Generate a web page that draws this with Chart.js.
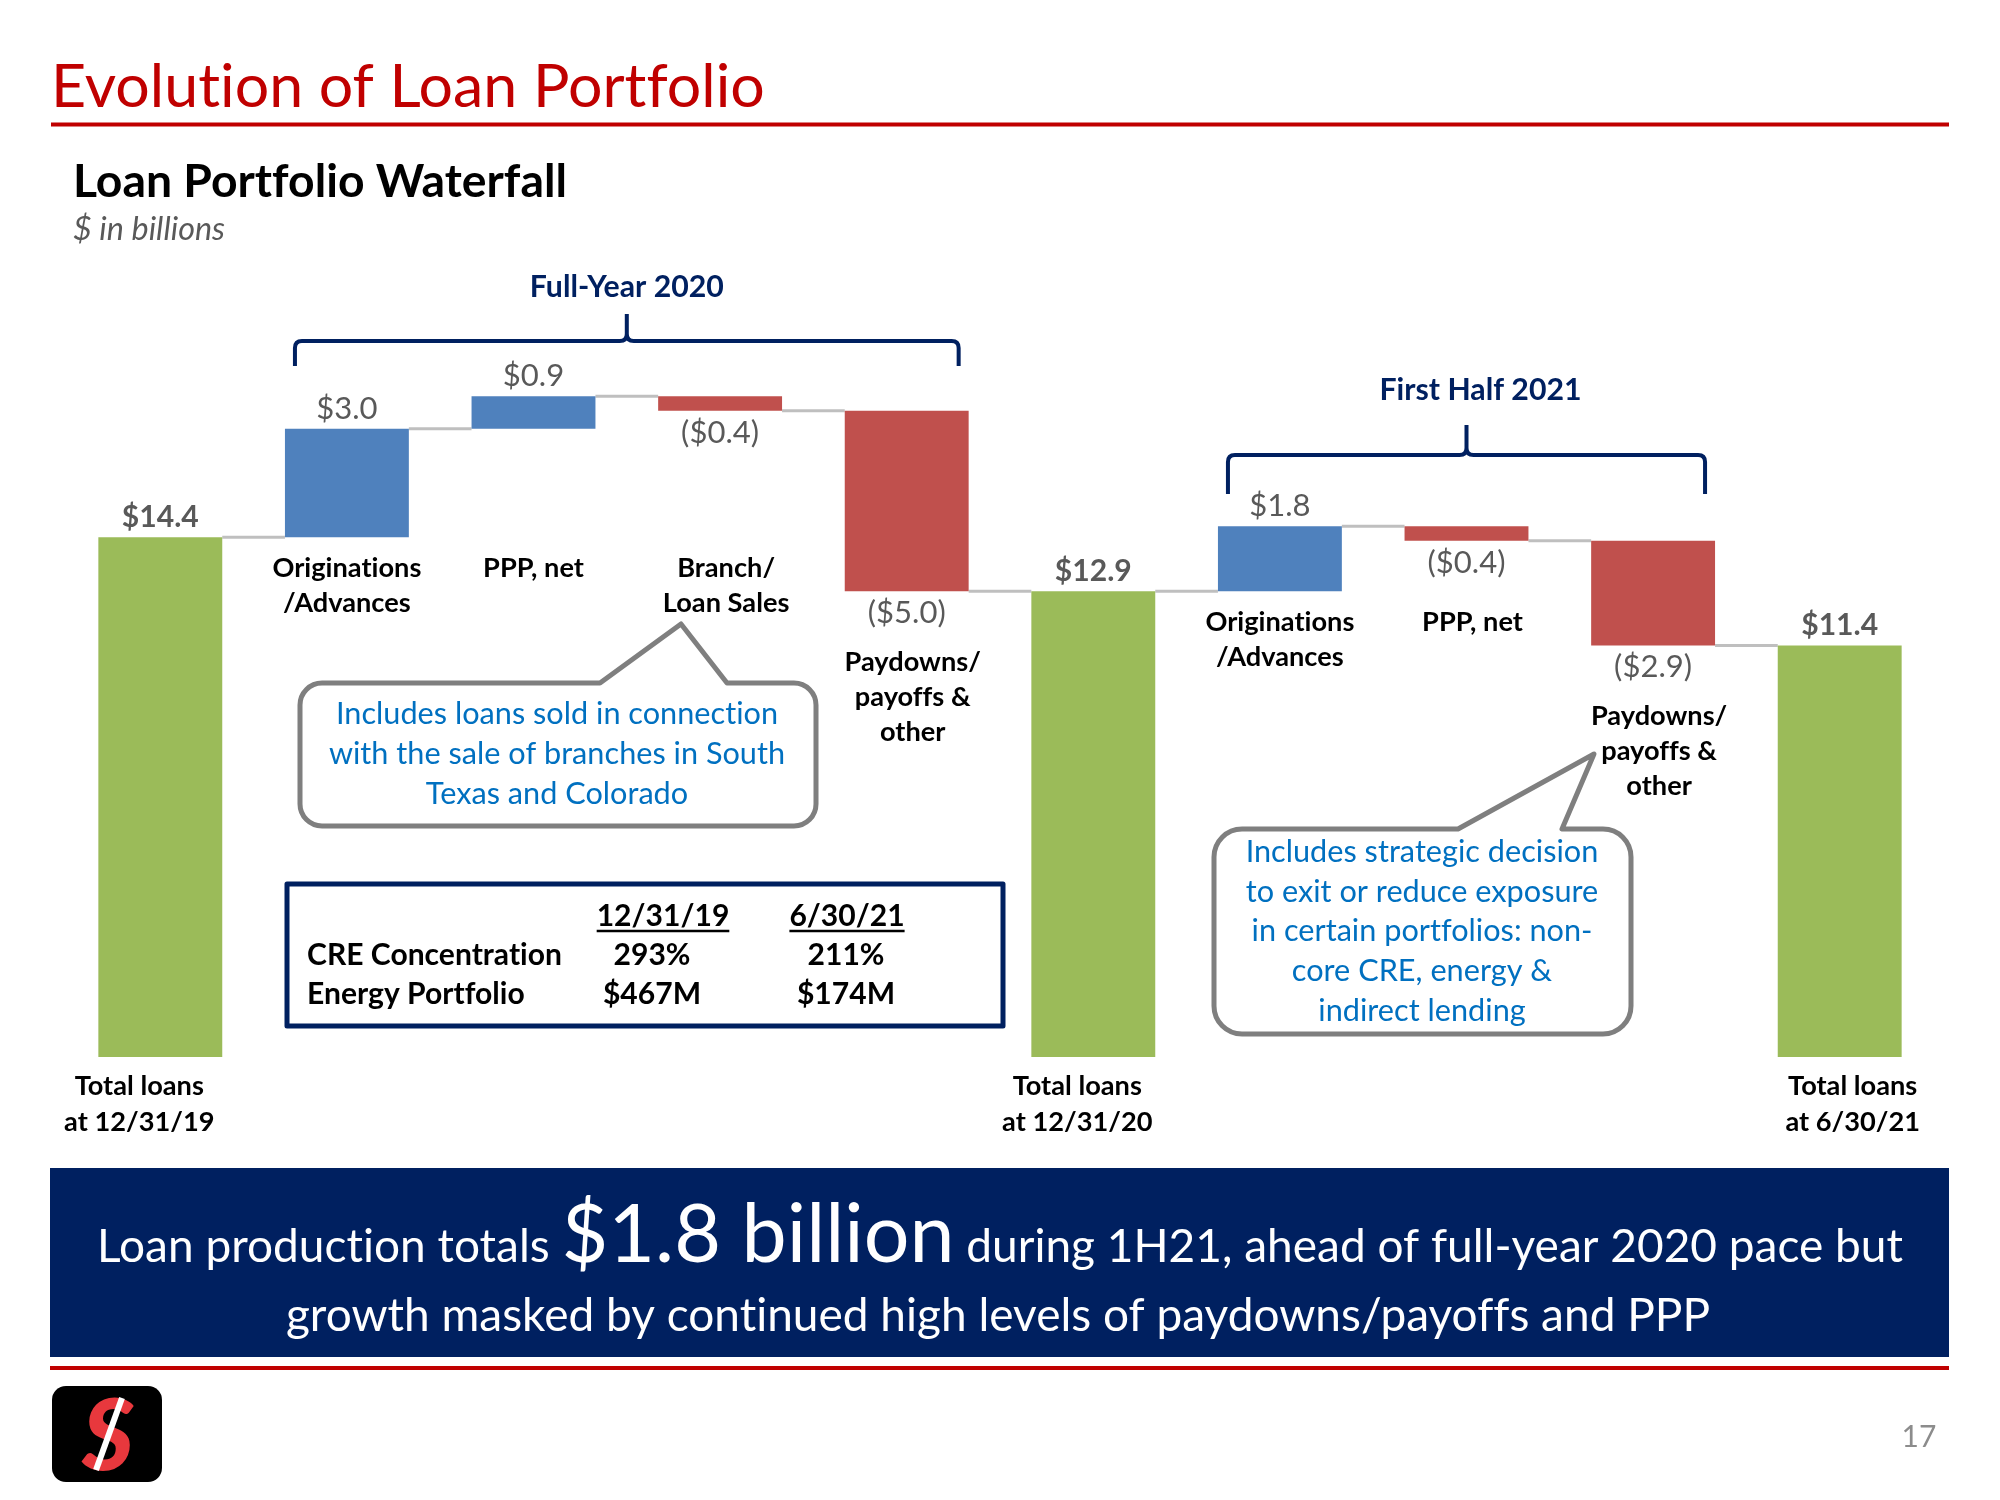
<!DOCTYPE html>
<html><head><meta charset="utf-8">
<script src="https://cdn.jsdelivr.net/npm/chart.js@4.4.0/dist/chart.umd.min.js"></script>
<style>html,body{margin:0;padding:0;background:#fff;}canvas{display:block}</style>
</head><body>
<canvas id="c" width="2000" height="1500"></canvas>
<script>
// ---------------- DATA ----------------
const categories = [
  ['Total loans','at 12/31/19'],
  ['Originations','/Advances'],
  ['PPP, net'],
  ['Branch/','Loan Sales'],
  ['Paydowns/','payoffs &','other'],
  ['Total loans','at 12/31/20'],
  ['Originations','/Advances'],
  ['PPP, net'],
  ['Paydowns/','payoffs &','other'],
  ['Total loans','at 6/30/21']
];
const values = [14.4, 3.0, 0.9, -0.4, -5.0, 12.9, 1.8, -0.4, -2.9, 11.4];
const isTotal = [true, false, false, false, false, true, false, false, false, true];
const valueLabels = ['$14.4','$3.0','$0.9','($0.4)','($5.0)','$12.9','$1.8','($0.4)','($2.9)','$11.4'];
const groupTitles = ['Full-Year 2020','First Half 2021'];
const groupFirst = [1, 6];
const groupLast = [4, 8];
const tableHeaders = ['12/31/19','6/30/21'];
const tableRowNames = ['CRE Concentration','Energy Portfolio'];
const creValues = ['293%','211%'];
const energyValues = ['$467M','$174M'];
const callout1Lines = ['Includes loans sold in connection','with the sale of branches in South','Texas and Colorado'];
const callout2Lines = ['Includes strategic decision','to exit or reduce exposure','in certain portfolios: non-','core CRE, energy &','indirect lending'];
const bannerLine1 = ['Loan production totals ','$1.8 billion',' during 1H21, ahead of full-year 2020 pace but'];
const bannerLine2 = 'growth masked by continued high levels of paydowns/payoffs and PPP';
const pageTitle = 'Evolution of Loan Portfolio';
const chartTitle = 'Loan Portfolio Waterfall';
const unitNote = '$ in billions';
const pageNumber = '17';

// ---------------- derived floating ranges ----------------
const r1 = x => Math.round(x * 10) / 10;
const floating = [];
const endLevel = [];
let run = 0;
values.forEach((v, i) => {
  if (isTotal[i]) { floating.push([0, v]); run = v; }
  else { const a = run, b = r1(run + v); floating.push([Math.min(a, b), Math.max(a, b)]); run = b; }
  endLevel.push(run);
});

// ---------------- STYLE ----------------
const GREEN = '#9BBB59', BLUE = '#4F81BD', RED = '#C0504D', NAVY = '#002060', TITLE_RED = '#C00000';
const FONT = 'Lato, "Open Sans", sans-serif';
const colors = values.map((v, i) => isTotal[i] ? GREEN : (v > 0 ? BLUE : RED));

function fontStr(size, weight, style) { return `${style || 'normal'} ${weight || 'normal'} ${size}px ${FONT}`; }
function noLig(ctx) { try { ctx.letterSpacing = '0.01px'; } catch (e) {} }
function fit(ctx, text, width, weight, style) {
  noLig(ctx);
  ctx.font = fontStr(100, weight, style);
  return 100 * width / ctx.measureText(text).width;
}
function txt(ctx, text, x, y, size, color, weight, style, align) {
  noLig(ctx);
  ctx.font = fontStr(size, weight, style);
  ctx.fillStyle = color;
  ctx.textAlign = align || 'left';
  ctx.textBaseline = 'alphabetic';
  ctx.fillText(text, x, y);
}
function hline(ctx, x1, x2, y, w, c) {
  ctx.beginPath(); ctx.moveTo(x1, y); ctx.lineTo(x2, y);
  ctx.lineWidth = w; ctx.strokeStyle = c; ctx.stroke();
}
function bracket(ctx, x1, x2, y, yLeg, yTip) {
  const mid = (x1 + x2) / 2, r = 7;
  ctx.beginPath();
  ctx.moveTo(x1, yLeg);
  ctx.lineTo(x1, y + r);
  ctx.quadraticCurveTo(x1, y, x1 + r, y);
  ctx.lineTo(mid - r, y);
  ctx.quadraticCurveTo(mid, y, mid, y - r);
  ctx.lineTo(mid, yTip);
  ctx.moveTo(mid, y - r);
  ctx.quadraticCurveTo(mid, y, mid + r, y);
  ctx.lineTo(x2 - r, y);
  ctx.quadraticCurveTo(x2, y, x2, y + r);
  ctx.lineTo(x2, yLeg);
  ctx.lineWidth = 4; ctx.strokeStyle = NAVY; ctx.lineJoin = 'round'; ctx.lineCap = 'butt';
  ctx.stroke();
}
function callout(ctx, x, y, w, h, r, bl, br, tx, ty) {
  ctx.beginPath();
  ctx.moveTo(x + r, y);
  ctx.lineTo(bl, y); ctx.lineTo(tx, ty); ctx.lineTo(br, y);
  ctx.lineTo(x + w - r, y); ctx.arcTo(x + w, y, x + w, y + r, r);
  ctx.lineTo(x + w, y + h - r); ctx.arcTo(x + w, y + h, x + w - r, y + h, r);
  ctx.lineTo(x + r, y + h); ctx.arcTo(x, y + h, x, y + h - r, r);
  ctx.lineTo(x, y + r); ctx.arcTo(x, y, x + r, y, r);
  ctx.closePath();
  ctx.fillStyle = '#fff'; ctx.fill();
  ctx.lineWidth = 5; ctx.strokeStyle = '#7F7F7F'; ctx.lineJoin = 'round'; ctx.stroke();
}

const decorPlugin = {
  id: 'decor',
  beforeDatasetsDraw(chart) {
    const ctx = chart.ctx, meta = chart.getDatasetMeta(0), ys = chart.scales.y;
    ctx.save();
    for (let i = 0; i < values.length - 1; i++) {
      const a = meta.data[i].getProps(['x', 'width'], true);
      const b = meta.data[i + 1].getProps(['x', 'width'], true);
      const y = ys.getPixelForValue(endLevel[i]);
      hline(ctx, a.x + a.width / 2, b.x - b.width / 2, y, 3, '#BFBFBF');
    }
    ctx.restore();
  },
  afterDatasetsDraw(chart) {
    const ctx = chart.ctx, meta = chart.getDatasetMeta(0), ys = chart.scales.y;
    ctx.save();
    // header
    const tSize = fit(ctx, pageTitle, 714, 'normal');
    txt(ctx, pageTitle, 51, 107, tSize, TITLE_RED);
    hline(ctx, 51, 1949, 124.5, 4, TITLE_RED);
    txt(ctx, chartTitle, 73, 197, fit(ctx, chartTitle, 494, 'bold'), '#000', 'bold');
    txt(ctx, unitNote, 73, 240, fit(ctx, unitNote, 152, 'normal', 'italic'), '#595959', 'normal', 'italic');

    // brackets
    const grpSize = fit(ctx, groupTitles[0], 194, 'bold');
    const brY = [341, 455], legY = [366, 494], tipY = [314, 425], lblY = [297, 400];
    groupTitles.forEach((g, k) => {
      const f = meta.data[groupFirst[k]].getProps(['x', 'width'], true);
      const l = meta.data[groupLast[k]].getProps(['x', 'width'], true);
      const x1 = f.x - f.width / 2 + 10, x2 = l.x + l.width / 2 - 10;
      bracket(ctx, x1, x2, brY[k], legY[k], tipY[k]);
      txt(ctx, g, (x1 + x2) / 2 + (k ? 14 : 0), lblY[k], grpSize, NAVY, 'bold', null, 'center');
    });

    // value labels
    const vSize = fit(ctx, '($5.0)', 78, 'normal');
    const vbSize = fit(ctx, '$14.4', 77, 'bold');
    const catSize = fit(ctx, 'Originations', 149, 'bold');
    const zeroPx = ys.getPixelForValue(0);
    const totalDx = [-21, -16, 13];
    let tIdx = 0, groupStartPx = 0;
    values.forEach((v, i) => {
      const el = meta.data[i];
      const p = el.getProps(['x', 'y', 'base'], true);
      const top = Math.min(p.y, p.base), bot = Math.max(p.y, p.base);
      if (isTotal[i]) {
        txt(ctx, valueLabels[i], p.x, top - 10, vbSize, '#595959', 'bold', null, 'center');
        const dx = totalDx[tIdx++];
        categories[i].forEach((line, j) => txt(ctx, line, p.x + dx, zeroPx + 38 + j * 36, catSize, '#000', 'bold', null, 'center'));
        groupStartPx = top;
      } else {
        if (v > 0) txt(ctx, valueLabels[i], p.x, top - 10, vSize, '#595959', 'normal', null, 'center');
        else txt(ctx, valueLabels[i], p.x, bot + 32, vSize, '#595959', 'normal', null, 'center');
        const lastInGroup = isTotal[i + 1];
        const y0 = lastInGroup ? bot + 80 : groupStartPx + 40;
        const dx = (v < 0) ? 6 : 0;
        categories[i].forEach((line, j) => txt(ctx, line, p.x + dx, y0 + j * 35, catSize, '#000', 'bold', null, 'center'));
      }
    });

    // callouts
    const cSize = fit(ctx, callout1Lines[1], 456, 'normal');
    callout(ctx, 300, 683, 516, 143, 22, 600, 727, 681, 624);
    callout1Lines.forEach((l, j) => txt(ctx, l, 557, 724 + j * 40, cSize, '#0070C0', 'normal', null, 'center'));
    callout(ctx, 1214, 829, 417, 205, 28, 1458, 1562, 1594, 754);
    callout2Lines.forEach((l, j) => txt(ctx, l, 1422, 862 + j * 39.7, cSize, '#0070C0', 'normal', null, 'center'));

    // table
    ctx.lineWidth = 5; ctx.strokeStyle = NAVY;
    ctx.strokeRect(287, 884, 716, 142);
    const tbSize = fit(ctx, tableRowNames[0], 255, 'bold');
    const hx = [663, 847];
    tableHeaders.forEach((h, k) => {
      txt(ctx, h, hx[k], 926, tbSize, '#000', 'bold', null, 'center');
      ctx.font = fontStr(tbSize, 'bold');
      const w = ctx.measureText(h).width;
      hline(ctx, hx[k] - w / 2, hx[k] + w / 2, 931, 2.5, '#000');
    });
    txt(ctx, tableRowNames[0], 307, 965, tbSize, '#000', 'bold');
    txt(ctx, tableRowNames[1], 307, 1004, tbSize, '#000', 'bold');
    const vx = [652, 846];
    creValues.forEach((t, k) => txt(ctx, t, vx[k], 965, tbSize, '#000', 'bold', null, 'center'));
    energyValues.forEach((t, k) => txt(ctx, t, vx[k], 1004, tbSize, '#000', 'bold', null, 'center'));

    // banner
    ctx.fillStyle = NAVY; ctx.fillRect(50, 1168, 1899, 189);
    const bSize = fit(ctx, bannerLine2, 1424, 'normal');
    const bigSize = fit(ctx, bannerLine1[1], 393, 'normal');
    ctx.font = fontStr(bSize); const w0 = ctx.measureText(bannerLine1[0]).width, w2 = ctx.measureText(bannerLine1[2]).width;
    ctx.font = fontStr(bigSize); const w1 = ctx.measureText(bannerLine1[1]).width;
    let bx = 1000 - (w0 + w1 + w2) / 2;
    txt(ctx, bannerLine1[0], bx, 1262, bSize, '#fff'); bx += w0;
    txt(ctx, bannerLine1[1], bx, 1262, bigSize, '#fff'); bx += w1;
    txt(ctx, bannerLine1[2], bx, 1262, bSize, '#fff');
    txt(ctx, bannerLine2, 998, 1331, bSize, '#fff', 'normal', null, 'center');

    // footer
    hline(ctx, 50, 1949, 1368, 4, TITLE_RED);
    ctx.fillStyle = '#000';
    ctx.beginPath(); ctx.roundRect(52, 1386, 110, 96, 14); ctx.fill();
    txt(ctx, 'S', 108, 1470, 100, '#E8383D', '900', 'italic', 'center');
    ctx.beginPath(); ctx.moveTo(96, 1470); ctx.lineTo(122, 1398);
    ctx.lineWidth = 6; ctx.strokeStyle = '#fff'; ctx.stroke();
    txt(ctx, pageNumber, 1919, 1447, 30, '#8C8C8C', 'normal', null, 'center');
    ctx.restore();
  }
};

new Chart(document.getElementById('c'), {
  type: 'bar',
  data: {
    labels: categories,
    datasets: [{
      data: floating,
      backgroundColor: colors,
      borderWidth: 0,
      barPercentage: 0.664,
      categoryPercentage: 1.0
    }]
  },
  options: {
    responsive: false,
    animation: false,
    devicePixelRatio: 1,
    layout: { padding: { left: 67, right: 67, top: 335, bottom: 443 } },
    plugins: { legend: { display: false }, tooltip: { enabled: false }, title: { display: false } },
    scales: {
      x: { display: false, grid: { display: false } },
      y: { display: false, min: 0, max: 20, grid: { display: false } }
    }
  },
  plugins: [decorPlugin]
});
</script>
</body></html>
